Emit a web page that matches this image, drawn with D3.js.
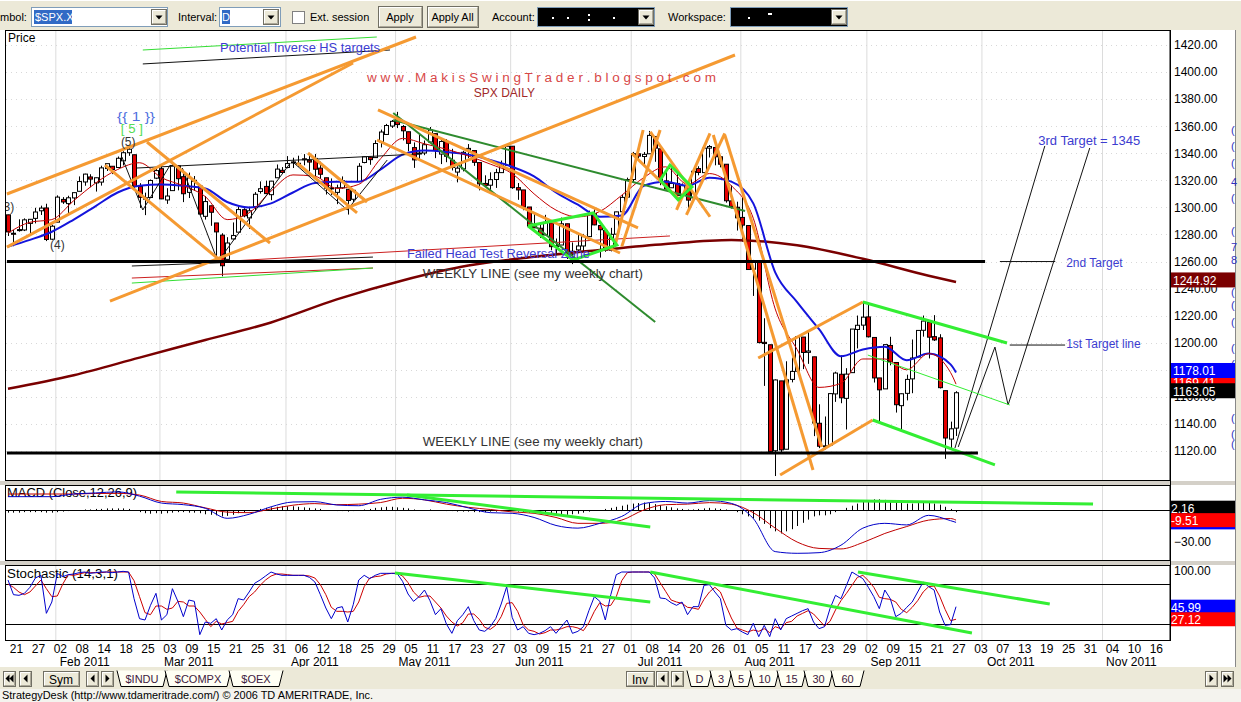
<!DOCTYPE html>
<html><head><meta charset="utf-8">
<script src="https://cdn.jsdelivr.net/npm/d3@7/dist/d3.min.js"></script>
<style>
html,body{margin:0;padding:0;background:#fff;overflow:hidden}
text{font-family:Arial,"Liberation Sans",sans-serif}
</style></head><body>
<svg id="chart" width="1241" height="702"></svg>
<script>
// ================= DATA =================
// trading days from 19 Jan 2011 (index 0) to 26 Sep 2011 (index 173)
const openP = [
1294.5,1280.9,1283.6,1283.3,1288.2,1291.9,1297.5,1299.6,1276.5,
1289.1,1305.9,1302.8,1307.0,1311.9,1318.8,1322.5,1318.1,1318.7,1328.7,1330.4,1329.5,1334.4,1340.4,1338.9,1315.4,1307.1,1307.3,1321.6,
1328.6,1305.5,1312.4,1330.7,1322.7,1311.1,1319.9,1315.7,1293.4,1301.2,1288.5,1279.5,1261.6,1276.7,1281.7,1298.3,1292.2,1300.6,1311.8,1315.5,1309.4,1321.9,1327.4,
1329.5,1333.6,1332.0,1335.9,1334.8,1336.2,1329.0,1321.9,1314.0,1311.1,1314.5,1313.4,1306.0,1319.1,1333.2,1337.1,1336.8,1348.4,1353.9,1360.1,
1365.2,1359.8,1355.9,1344.2,1340.2,1340.2,1348.3,1354.5,1339.4,1348.7,1334.8,1326.1,1328.5,1342.4,1342.0,1333.1,1317.7,1316.4,1320.6,1325.7,1331.1,
1345.2,1314.6,1312.9,1300.3,1286.3,1284.6,1279.6,1288.6,1271.3,1272.2,1287.9,1265.5,1268.6,1271.5,1278.4,1295.5,1286.6,1283.0,1268.4,1280.2,1296.8,1307.6,
1320.6,1339.6,1337.6,1339.6,1352.4,1343.3,1319.6,1314.5,1317.7,1308.9,1315.9,1307.1,1328.7,1325.7,1343.8,1344.3,1337.4,1331.9,1304.8,1300.1,
1292.6,1286.6,1254.3,1260.2,1200.3,1198.5,1120.2,1171.8,1121.3,1172.9,1178.9,1204.2,1192.9,1189.6,1140.5,1123.6,1124.4,1162.2,1176.7,1158.9,1177.9,1209.8,1213.0,
1219.1,1203.9,1174.0,1165.9,1198.0,1185.4,1153.5,1162.6,1173.3,1189.4,1209.2,1215.0,1204.5,1203.6,1164.6,1128.8,1136.9];
const highP = [
1294.6,1283.4,1291.2,1291.9,1291.3,1299.7,1301.3,1302.7,1287.2,
1308.9,1307.6,1308.6,1311.0,1322.9,1324.9,1324.5,1322.0,1330.8,1332.1,1330.4,1337.6,1341.5,1344.1,1338.9,1317.9,1310.9,1320.6,1329.4,
1332.1,1314.2,1332.3,1331.1,1327.7,1325.7,1323.2,1315.7,1308.4,1301.2,1288.5,1280.9,1278.0,1288.9,1300.6,1299.4,1300.5,1311.3,1319.2,1319.7,1319.5,1331.7,1329.8,
1337.9,1336.7,1338.2,1339.4,1338.8,1339.5,1333.8,1321.9,1321.4,1316.8,1322.9,1313.4,1312.7,1332.7,1337.5,1337.5,1349.6,1357.5,1361.7,1364.6,
1370.6,1360.8,1355.9,1348.0,1354.4,1349.4,1359.4,1354.5,1351.1,1350.5,1343.3,1330.4,1341.8,1346.8,1342.0,1333.1,1323.7,1325.9,1328.5,1334.6,1345.2,
1345.2,1318.0,1312.9,1300.3,1296.2,1287.0,1294.5,1288.6,1277.0,1292.5,1287.9,1274.1,1279.8,1280.4,1297.6,1298.6,1286.8,1283.9,1284.9,1296.8,1309.2,1322.0,
1341.0,1340.9,1340.9,1356.5,1352.4,1343.3,1327.2,1331.5,1326.9,1317.7,1315.9,1328.1,1330.4,1347.0,1346.1,1344.3,1338.5,1331.9,1316.3,1304.2,
1307.4,1286.6,1261.2,1260.2,1218.1,1198.5,1172.9,1171.8,1186.3,1189.0,1204.5,1204.2,1208.5,1189.6,1154.5,1145.5,1162.4,1178.6,1190.7,1181.2,1210.1,1220.1,1230.7,
1229.3,1203.9,1174.0,1198.6,1204.4,1185.4,1162.5,1176.4,1202.4,1209.1,1220.1,1215.0,1220.4,1206.3,1164.6,1141.7,1164.2];
const lowP = [
1278.9,1271.3,1282.1,1282.5,1281.1,1288.2,1294.4,1275.1,1276.0,
1289.1,1302.6,1294.8,1301.7,1311.9,1316.0,1314.9,1311.7,1316.1,1326.9,1324.6,1329.5,1331.0,1338.1,1312.3,1299.6,1294.3,1307.3,1320.9,
1306.1,1302.6,1312.4,1312.6,1303.9,1306.9,1312.3,1294.2,1291.0,1286.4,1261.9,1249.1,1261.6,1276.2,1281.7,1292.7,1284.1,1297.7,1310.2,1310.2,1305.3,1321.9,1325.0,
1328.9,1329.1,1330.0,1331.1,1326.6,1322.9,1321.1,1309.5,1309.2,1302.4,1313.7,1294.7,1304.0,1319.1,1332.6,1331.5,1336.8,1344.3,1353.6,1358.7,
1358.6,1349.5,1341.5,1329.2,1335.6,1338.6,1348.3,1336.4,1332.0,1333.4,1327.3,1318.5,1326.6,1336.4,1330.7,1312.6,1315.1,1311.8,1314.4,1325.7,1331.1,
1313.7,1305.6,1297.9,1284.9,1284.7,1277.4,1279.6,1268.3,1265.6,1272.2,1261.9,1258.1,1267.4,1267.6,1278.4,1286.8,1262.9,1267.2,1267.5,1280.2,1296.8,1307.6,
1318.3,1334.3,1330.9,1339.6,1333.7,1316.4,1313.3,1314.5,1306.5,1307.5,1295.9,1307.1,1323.7,1325.7,1336.9,1331.1,1329.6,1303.5,1299.2,1282.9,
1274.7,1254.0,1234.6,1199.5,1168.1,1119.3,1101.5,1118.0,1121.3,1170.7,1178.9,1180.5,1184.4,1131.0,1122.1,1121.1,1124.4,1156.3,1155.3,1135.9,1177.9,1195.8,1209.4,
1203.9,1170.6,1140.1,1165.9,1183.3,1148.4,1136.1,1157.4,1162.7,1189.4,1204.5,1188.4,1201.3,1166.2,1114.2,1121.4,1131.1];
const closeP = [
1281.9,1280.3,1283.4,1290.8,1291.2,1296.6,1299.5,1276.3,1286.1,
1307.6,1304.0,1307.1,1310.9,1319.1,1324.6,1320.9,1321.9,1329.2,1332.3,1328.0,1336.3,1340.4,1343.0,1315.4,1307.4,1306.1,1319.9,1327.2,
1306.3,1308.4,1331.0,1321.2,1310.1,1321.8,1320.0,1295.1,1304.3,1296.4,1281.9,1256.9,1273.7,1279.2,1298.4,1293.8,1297.5,1309.7,1313.8,1310.2,1319.4,1328.3,1325.8,
1332.4,1332.9,1332.6,1335.5,1333.5,1328.2,1324.5,1314.2,1314.4,1314.5,1319.7,1305.1,1312.6,1330.4,1337.4,1335.3,1347.2,1355.7,1360.5,1363.6,
1361.2,1356.6,1347.3,1335.1,1340.2,1346.3,1357.2,1342.1,1348.7,1337.8,1329.5,1329.0,1340.7,1343.6,1333.3,1317.4,1316.3,1320.5,1325.7,1331.1,1345.2,
1314.6,1312.9,1300.2,1286.2,1284.9,1279.6,1289.0,1271.0,1271.8,1287.9,1265.4,1267.6,1271.5,1278.4,1295.5,1287.1,1283.5,1268.5,1280.1,1296.7,1307.4,1320.6,
1339.7,1337.9,1339.2,1353.2,1343.8,1319.5,1313.6,1317.7,1308.9,1316.1,1305.4,1326.7,1325.8,1343.8,1345.0,1337.4,1331.9,1304.9,1300.7,1292.3,
1286.9,1254.1,1260.3,1200.1,1199.4,1119.5,1172.5,1120.8,1172.6,1178.8,1204.5,1192.8,1193.9,1140.7,1123.5,1123.8,1162.4,1177.6,1159.3,1176.8,1210.1,1212.9,1218.9,
1204.4,1174.0,1165.2,1198.6,1185.9,1154.2,1162.3,1172.9,1188.7,1209.1,1216.0,1204.1,1202.1,1166.8,1129.6,1136.4,1163.05];

// moving averages, read every 4th trading day (+ last day)
const maIdx = d3.range(0, 173, 4).concat([173]);
const maFast = [1281,1289,1291,1305,1318,1328,1333,1322,1316,1308,1291,1296,1312,1324,1323,1314,1317,1336,1351,1347,1343,1338,1332,1325,1310,1298,1293,1297,1309,1322,1330,1317,1325,1316,1292,1225,1195,1167,1170,1188,1188,1180,1192,1178,1169.41];
const maMid = [1271,1276,1282,1291,1301,1311,1316,1317,1316,1314,1304,1300,1303,1311,1318,1319,1319,1328,1339,1342,1341,1339,1335,1330,1323,1311,1302,1293,1294,1316,1319,1316,1322,1319,1303,1252,1230,1210,1190,1195,1197,1187,1192,1184,1178.01];
const maLongIdx = d3.range(0, 169, 12).concat([173]);
const maLong = [1166,1176,1189,1202,1215,1232,1246,1257,1263.5,1268.5,1273,1276,1272,1262,1249.5,1244.92];

// MACD (12,26,9) read every 4th day (+ last)
const macdLine = [12.5,12.5,12.5,15,16,17,13,6.5,5,1.6,-7.8,-4,3,7.5,7.8,4.7,4,10,12,9.5,7,2,-2.5,-3.1,-7,-14.5,-17,-12.5,-6,6,8,6.5,8.8,6.2,-8,-39,-40.6,-40,-33,-17,-12.5,-14,-5,-10,-11.6];
const macdSignal = [15,15,15,15,15.5,15.6,14,8,6.5,2,-2,-2.5,1,4.5,6,5,5.5,7,11,9.5,5.5,2.5,0.5,-1.8,-3.1,-7,-12.5,-12.5,-9.5,0,5,5.5,6.9,5.5,-2.5,-17,-30,-36,-36.5,-30.5,-22,-15.5,-9.5,-8,-9.51];
const macdHist = [
-2.5,-2.5,-2.5,-2,-2,-2,-2,-2.5,-2.5,-2,-1.5,-1,-0.5,0,0.5,0.5,1,1,1.5,1.5,
1.5,1.5,1,-0.5,-2,-3,-3.5,-3,-3.5,-3,-2.5,-2,-2,-2.5,-2.5,-3,-4,-4.5,-5,-6,
-5.5,-4.5,-3,-2,-1,0,1,2,2.5,3,3.5,3.5,3.5,3,2.5,2,1.5,1,0,-0.5,
-1,-1,-1.5,-1,0,0.5,1,2,2.5,3,3,2.5,2,1.5,0.5,0,0,0.5,0,-0.5,
-1,-1,-1.5,-1.5,-1.5,-2,-2,-2,-1.5,-1.5,-1,-0.5,-1,-1.5,-2,-2.5,-3,-3.5,-4,-4.5,
-5,-5,-4.5,-4,-3.5,-2.5,-1.5,-0.5,0,1,2,3,4,5,6,6.5,7,6.5,5.5,4.5,
3.5,2.5,1.5,1,0.5,0.5,1,1.5,2,1.5,1,0.5,-0.5,-2,-4,-6,-8,-10,-13,-17,
-20,-22,-20,-18,-15,-12,-9,-6,-5,-5,-4,-2,0,2,4,6,8,9,10,10,
9.5,9,8,7,6,6,6.5,7,7,6,5,3,1,-2];

// Stochastic (14,3,1) daily
const stochK = [
86,64,63,66,75,89,93,36,53,96, 91,94,95,97,98,96,97,98,98,97,
98,99,98,58,28,26,48,66,26,34, 73,54,31,56,54,4,23,21,28,11,
26,34,58,56,68,81,86,92,98,95, 93,93,93,93,93,90,83,64,44,28,
44,46,23,49,86,93,88,93,96,96, 96,96,84,65,54,61,71,55,34,43,
20,6,25,34,46,25,11,9,16,28, 50,76,30,11,16,6,4,6,10,16,
6,16,26,6,9,16,40,61,54,26, 64,94,98,98,98,98,98,98,89,59,
58,52,48,53,34,46,46,78,79,68, 58,18,11,13,8,4,21,1,18,1,
28,11,28,32,36,40,43,23,13,16, 43,63,58,78,98,93,88,75,61,43,
71,58,31,36,45,53,68,83,76,71, 38,18,19,45.99];
const stochD = [
80,75,68,64,68,77,86,73,61,62, 80,94,93,95,97,97,97,97,98,98,
98,98,98,85,61,37,34,47,47,42, 44,54,53,47,47,38,27,16,24,20,
22,24,39,49,61,68,78,86,92,95, 95,94,93,93,93,92,89,79,64,45,
39,39,38,39,53,76,89,91,92,95, 96,96,92,82,68,60,62,62,53,44,
32,23,17,22,35,35,27,15,12,18, 31,51,52,39,19,11,9,5,7,11,
11,13,16,16,14,10,22,39,52,47, 48,61,85,97,98,98,98,98,95,82,
69,56,53,51,45,44,42,57,68,75, 68,48,29,14,11,8,11,9,13,7,
16,13,22,24,32,36,40,35,26,17, 24,41,55,66,78,90,93,85,75,60,
58,57,53,42,37,45,55,68,76,77, 62,42,25,27.12];

// axis labels
const dayTickStart = 2, dayTickStep = 4;
const dayTickLabels = ["21","27","02","08","14","18","25","03","09","15","21","25","31","06","12","18","25","29","05","11","17","23","27","03","09","15","21","27","01","08","14","20","26","01","05","11","17","23","29","02","09","15","21","27","03","07","13","19","25","31","04","10","16"];
const monthLabels = ["Feb 2011","Mar 2011","Apr 2011","May 2011","Jun 2011","Jul 2011","Aug 2011","Sep 2011","Oct 2011","Nov 2011"];
const monthStart = [9,28,51,71,92,114,134,157,178,200];
const priceTicks = d3.range(1120, 1421, 20);

// drawn annotations (trading-day index, price)
const orangeLines = [
 [[-0.2,1309.9],[74.45,1425.9]],
 [[-0.2,1270.7],[62.96,1406.7]],
 [[25.36,1348.3],[47.81,1273.7]],
 [[17.70,1331.3],[39.05,1259.7]],
 [[18.61,1230.8],[132.66,1412.6]],
 [[54.74,1340.2],[65.51,1304.0]],
 [[52.74,1332.8],[63.69,1295.9]],
 [[67.52,1372.0],[114.96,1284.8]],
 [[67.34,1349.8],[111.68,1266.3]],
 [[110.8,1272.2],[115.9,1357.2]],
 [[112.0,1271.0],[119.0,1357.2]],
 [[113.8,1340.0],[122.3,1306.7]],
 [[117.2,1355.9],[128.1,1293.1]],
 [[122.0,1298.1],[128.1,1354.7]],
 [[123.8,1294.4],[130.8,1354.7]],
 [[128.7,1353.5],[146.9,1106.0]],
 [[130.8,1353.5],[148.5,1123.0]],
 [[136.9,1188.7],[156.0,1230.1]],
 [[140.9,1102.3],[157.8,1142.9]]
];
const limeLines = [
 [[156.0,1230.1],[182.3,1199.8]],
 [[157.8,1142.9],[180.1,1109.7]]
];
const limeThin = [[[156.9,1190.9],[182.8,1154.0]]];
const limePolys = [
 [[94.9,1286.3],[106.8,1295.9],[111.1,1272.2],[103.1,1261.1]],
 [[119.0,1320.2],[120.8,1331.3],[124.8,1315.1],[122.3,1305.5]]
];
const darkGreenLines = [
 [[70.3,1364.6],[134.5,1297.3]],
 [[70.3,1369.8],[118.1,1215.3]]
];
const weeklyLines = [
 [[-0.2,1260],[178.3,1260]],
 [[-0.2,1118.5],[177.0,1118.5]]
];
const blackThin = [
 [[23.5,1329.1],[75.2,1339.5]],
 [[22.6,1256.7],[66.6,1263.3]],
 [[24.6,1406.0],[69.7,1416.3]],
 [[20.8,1337.2],[24.6,1298.1],[29.6,1331.3]],
 [[31.8,1329.1],[38.3,1260],[51.5,1332.8]],
 [[52.0,1333.5],[61.9,1298.1],[69.2,1335.0]],
 [[172.8,1122.2],[189.2,1345.4]],
 [[173.4,1123.0],[180.1,1196.8],[182.5,1154.0],[197.4,1343.9]],
 [[181.0,1260],[191.1,1260]],
 [[182.8,1198.3],[192.9,1198.3]]
];
const redThin = [
 [[39.05,1260],[120.8,1278.9]],
 [[22.6,1247.8],[66.6,1255.2]]
];
const greenThin = [
 [[22.6,1244.1],[66.6,1255.2]],
 [[24.6,1416.3],[67.3,1425.9]]
];
const macdLime = [
 [[30.7,16.9],[198.0,5.6]],
 [[72.8,14.1],[117.2,-15.9]]
];
const stochLime = [
 [[70.6,96.5],[117.2,53]],
 [[117.2,98],[175.9,6.5]],
 [[155.1,98],[190.1,50]]
];
// text notes: [index, price, text, colour, width]
const notes = [
 [38.7,1414.8,"Potential Inverse HS targets","#3c3cd0",160],
 [65.5,1392.7,"w w w . M a k i s S w i n g T r a d e r . b l o g s p o t . c o m","#d84848",349],
 [85.0,1381.6,"SPX DAILY","#a02828",0],
 [19.9,1363.8,"{{  1  }}","#5070e0",38],
 [20.6,1355.0,"[ 5 ]","#55dd55",22],
 [20.6,1345.4,"(5)","#333333",0],
 [7.66,1269.3,"(4)","#333333",0],
 [-0.8,1297.3,"3)","#333333",0],
 [72.8,1262.6,"Failed Head Test Reversal Zone","#3c3cd0",183],
 [75.7,1247.8,"WEEKLY LINE (see my weekly chart)","#333333",220],
 [75.7,1123.7,"WEEKLY LINE (see my weekly chart)","#333333",220],
 [188.0,1346.1,"3rd Target = 1345","#3c3cd0",102],
 [193.1,1256.0,"2nd Target","#3c3cd0",0],
 [193.1,1196.1,"1st Target line","#3c3cd0",0]
];
const priceTags = [[1244.92,"#7b0000"],[1169.41,"#ff0000"],[1178.01,"#0000ff"],[1163.05,"#000000"]];
const macdTags = [[2.16,"#000000"],[-11.6,"#0000ff"],[-9.51,"#ff0000"]];
const stochTags = [[45.99,"#0000ff"],[27.12,"#ff0000"]];

// ================= DRAWING =================
const BG = "#ece9d8";
const svg = d3.select("#chart");
const defs = svg.append("defs");
svg.append("rect").attr("width",1241).attr("height",702).attr("fill","#fff");

const x = d3.scaleLinear().domain([0,210]).range([8, 8 + 5.48*210]);
const yP = d3.scaleLinear().domain([1120,1420]).range([451,45]);
const yM = d3.scaleLinear().domain([-30,0]).range([542,510]);
const yS = d3.scaleLinear().domain([20,80]).range([624,584]);

function clip(id,x0,y0,w,h){defs.append("clipPath").attr("id",id).append("rect").attr("x",x0).attr("y",y0).attr("width",w).attr("height",h);}
clip("cpP",6,31,1164,450); clip("cpM",6,486,1164,74); clip("cpS",6,566,1164,74);

function T(g,x0,y0,s,o){o=o||{};const t=g.append("text").attr("x",x0).attr("y",y0).text(s)
 .attr("font-size",o.size||11).attr("fill",o.fill||"#000");
 if(o.anchor)t.attr("text-anchor",o.anchor); if(o.len)t.attr("textLength",o.len).attr("lengthAdjust","spacingAndGlyphs");
 if(o.weight)t.attr("font-weight",o.weight); return t;}

// ---------- toolbar ----------
const tb = svg.append("g");
tb.append("rect").attr("width",1241).attr("height",30).attr("fill",BG);
tb.append("line").attr("x1",0).attr("x2",1241).attr("y1",0.5).attr("y2",0.5).attr("stroke","#fff");
function btn(g,x0,y0,w,h){
 g.append("rect").attr("x",x0+0.5).attr("y",y0+0.5).attr("width",w).attr("height",h).attr("fill",BG).attr("stroke","#716f64");
 g.append("path").attr("d",`M${x0+1.5},${y0+h-1}V${y0+1.5}H${x0+w-1}`).attr("stroke","#fff").attr("fill","none");
 g.append("path").attr("d",`M${x0+1.5},${y0+h-0.5}H${x0+w-0.5}V${y0+1.5}`).attr("stroke","#aca899").attr("fill","none");
}
function dropBtn(g,x0,y0){btn(g,x0,y0,15,15);g.append("path").attr("d",`M${x0+4.5},${y0+6.5}h7l-3.5,4z`).attr("fill","#000");}
function combo(g,x0,w,fill){g.append("rect").attr("x",x0+0.5).attr("y",7.5).attr("width",w).attr("height",19).attr("fill",fill).attr("stroke","#7f9db9");}
T(tb,0,21,"mbol:");
combo(tb,31,136,"#fff");
tb.append("rect").attr("x",34).attr("y",10).attr("width",38).attr("height",14).attr("fill","#316ac5");
T(tb,35,21,"$SPX.X",{fill:"#fff"});
dropBtn(tb,151,9);
T(tb,178,21,"Interval:");
combo(tb,219,61,"#fff");
tb.append("rect").attr("x",222).attr("y",10).attr("width",8).attr("height",14).attr("fill","#316ac5");
T(tb,222,21,"D",{fill:"#fff"});
dropBtn(tb,263,9);
tb.append("rect").attr("x",292.5).attr("y",11.5).attr("width",12).attr("height",12).attr("fill","#fff").attr("stroke","#808080");
T(tb,310,21,"Ext. session");
btn(tb,378,6,44,21); T(tb,400,21,"Apply",{anchor:"middle"});
btn(tb,427,6,51,21); T(tb,452.5,21,"Apply All",{anchor:"middle"});
T(tb,492,21,"Account:");
combo(tb,537,117,"#000");
[[552,17],[567,17],[588,14],[588,19],[613,17]].forEach(d=>tb.append("rect").attr("x",d[0]).attr("y",d[1]).attr("width",2).attr("height",2).attr("fill","#fff"));
dropBtn(tb,638,9);
T(tb,668,21,"Workspace:");
combo(tb,730,117,"#000");
[[748,17],[768,13],[770,13]].forEach(d=>tb.append("rect").attr("x",d[0]).attr("y",d[1]).attr("width",2).attr("height",2).attr("fill","#fff"));
dropBtn(tb,831,9);

// ---------- chart frame ----------
const fr = svg.append("g");
fr.append("rect").attr("x",0).attr("y",481).attr("width",1236).attr("height",4).attr("fill","#d4d0c8");
fr.append("rect").attr("x",0).attr("y",561).attr("width",1236).attr("height",4).attr("fill","#d4d0c8");
fr.append("rect").attr("x",1235).attr("y",30).attr("width",6).attr("height",640).attr("fill",BG);
fr.append("line").attr("x1",1235.5).attr("x2",1235.5).attr("y1",30).attr("y2",668).attr("stroke","#888");
[[130,"("],[146,"("],[163,"("],[182,"4"],[198,"("],[231,"("],[247,"7"],[260,"8"],[292,"("],[305,"("],[322,"("],[348,"("],[364,"("],[392,"("],[418,"("],[434,"("],[444,"("]]
 .forEach(d=>T(fr,1231,d[0]+4,d[1],{fill:"#3030c0",size:11}));

// gridlines
function grid(g,y0,y1){
 monthStart.forEach(m=>g.append("line").attr("x1",x(m)-1.5).attr("x2",x(m)-1.5).attr("y1",y0).attr("y2",y1).attr("stroke","#dcdcdc"));
}
const gP = svg.append("g").attr("clip-path","url(#cpP)");
grid(gP,31,481);
priceTicks.forEach(v=>gP.append("line").attr("x1",6).attr("x2",1170).attr("y1",Math.round(yP(v))+0.5).attr("y2",Math.round(yP(v))+0.5).attr("stroke","#d8d8d8").attr("stroke-dasharray","1,4"));

// candles
const cdl = gP.append("g").selectAll("g").data(closeP).join("g");
cdl.append("line").attr("x1",(d,i)=>Math.round(x(i))+0.5).attr("x2",(d,i)=>Math.round(x(i))+0.5)
 .attr("y1",(d,i)=>yP(highP[i])).attr("y2",(d,i)=>yP(lowP[i])).attr("stroke","#000");
cdl.append("rect").attr("x",(d,i)=>Math.round(x(i))-1.5).attr("width",4)
 .attr("y",(d,i)=>yP(Math.max(openP[i],d))).attr("height",(d,i)=>Math.max(1,yP(Math.min(openP[i],d))-yP(Math.max(openP[i],d))))
 .attr("fill",(d,i)=>d>=openP[i]?"#fff":"#e40000").attr("stroke","#000").attr("stroke-width",1);

// moving averages
const lnP = d3.line().x(d=>x(d[0])).y(d=>yP(d[1]));
const lnPc = d3.line().x(d=>x(d[0])).y(d=>yP(d[1])).curve(d3.curveMonotoneX);
gP.append("path").attr("d",lnPc(maLongIdx.map((d,k)=>[d,maLong[k]]))).attr("fill","none").attr("stroke","#7a0000").attr("stroke-width",2.5);
gP.append("path").attr("d",lnPc(maIdx.map((d,k)=>[d,maMid[k]]))).attr("fill","none").attr("stroke","#1414dc").attr("stroke-width",2);
gP.append("path").attr("d",lnPc(maIdx.map((d,k)=>[d,maFast[k]]))).attr("fill","none").attr("stroke","#c40000").attr("stroke-width",1);

// annotations
function drawLines(arr,col,w){arr.forEach(p=>gP.append("path").attr("d",lnP(p)).attr("fill","none").attr("stroke",col).attr("stroke-width",w));}
drawLines(redThin,"#cc2020",1);
drawLines(greenThin,"#33dd33",1);
drawLines(blackThin,"#111",1);
drawLines(darkGreenLines,"#2e8b2e",2);
drawLines(orangeLines,"#f59a32",3);
drawLines(limeThin,"#33ee33",1);
drawLines(limeLines,"#33ee33",3);
limePolys.forEach(p=>gP.append("path").attr("d",lnP(p.concat([p[0]]))).attr("fill","none").attr("stroke","#33ee33").attr("stroke-width",3));
drawLines(weeklyLines,"#000",3);
notes.forEach(n=>T(gP,x(n[0]),yP(n[1]),n[2],{fill:n[3],size:12,len:n[4]||null}));
T(svg,8,42,"Price",{size:12});

// right price axis
const axP = svg.append("g").attr("transform","translate(1170,0)")
 .call(d3.axisRight(yP).tickValues(priceTicks).tickFormat(d3.format(".2f")).tickSize(0).tickPadding(4));
axP.select(".domain").remove();
axP.selectAll("text").attr("font-size",12).attr("font-family","Arial, 'Liberation Sans', sans-serif").attr("fill","#000");
priceTags.forEach(t=>{
 const cy = yP(t[0]);
 svg.append("rect").attr("x",1170).attr("y",cy-9.5).attr("width",65).attr("height",15).attr("fill",t[1]);
 T(svg,1173,cy+3,t[0].toFixed(2),{fill:"#fff",size:12});
});

// ---------- MACD panel ----------
const gM = svg.append("g").attr("clip-path","url(#cpM)");
grid(gM,486,561);
T(gM,7,497,"MACD (Close,12,26,9)",{size:12,len:130});
gM.append("line").attr("x1",6).attr("x2",1170).attr("y1",yM(0)+0.5).attr("y2",yM(0)+0.5).attr("stroke","#000");
gM.append("g").selectAll("line").data(macdHist).join("line")
 .attr("x1",(d,i)=>Math.round(x(i))+0.5).attr("x2",(d,i)=>Math.round(x(i))+0.5)
 .attr("y1",yM(0)).attr("y2",d=>yM(d)).attr("stroke","#000");
const lnM = d3.line().x(d=>x(d[0])).y(d=>yM(d[1])).curve(d3.curveMonotoneX);
gM.append("path").attr("d",lnM(maIdx.map((d,k)=>[d,macdSignal[k]]))).attr("fill","none").attr("stroke","#c00000");
gM.append("path").attr("d",lnM(maIdx.map((d,k)=>[d,macdLine[k]]))).attr("fill","none").attr("stroke","#0000c8");
const lnMs = d3.line().x(d=>x(d[0])).y(d=>yM(d[1]));
macdLime.forEach(p=>gM.append("path").attr("d",lnMs(p)).attr("fill","none").attr("stroke","#33ee33").attr("stroke-width",3));
const axM = svg.append("g").attr("transform","translate(1170,0)")
 .call(d3.axisRight(yM).tickValues([-30]).tickFormat(d3.format(".2f")).tickSize(0).tickPadding(4));
axM.select(".domain").remove();
axM.selectAll("text").attr("font-size",12).attr("font-family","Arial, 'Liberation Sans', sans-serif").attr("fill","#000");
macdTags.forEach(t=>{
 const cy = yM(t[0]);
 svg.append("rect").attr("x",1170).attr("y",cy-7).attr("width",65).attr("height",14).attr("fill",t[1]);
 T(svg,1171,cy+5,t[0].toFixed(2),{fill:"#fff",size:12});
});

// ---------- Stochastic panel ----------
const gS = svg.append("g").attr("clip-path","url(#cpS)");
grid(gS,566,641);
T(gS,7,578,"Stochastic (14,3,1)",{size:12,len:111});
[80,20].forEach(v=>gS.append("line").attr("x1",6).attr("x2",1170).attr("y1",yS(v)+0.5).attr("y2",yS(v)+0.5).attr("stroke","#000"));
const lnS = d3.line().x((d,i)=>x(i)).y(d=>yS(d));
gS.append("path").attr("d",lnS(stochD)).attr("fill","none").attr("stroke","#cc0000");
gS.append("path").attr("d",lnS(stochK)).attr("fill","none").attr("stroke","#0000cc");
const lnSs = d3.line().x(d=>x(d[0])).y(d=>yS(d[1]));
stochLime.forEach(p=>gS.append("path").attr("d",lnSs(p)).attr("fill","none").attr("stroke","#33ee33").attr("stroke-width",3));
const axS = svg.append("g").attr("transform","translate(1170,0)")
 .call(d3.axisRight(yS).tickValues([100]).tickFormat(d3.format(".2f")).tickSize(0).tickPadding(4));
axS.select(".domain").remove();
axS.selectAll("text").attr("font-size",12).attr("font-family","Arial, 'Liberation Sans', sans-serif").attr("fill","#000");
stochTags.forEach(t=>{
 const cy = yS(t[0]);
 svg.append("rect").attr("x",1170).attr("y",cy-7).attr("width",65).attr("height",14).attr("fill",t[1]);
 T(svg,1171,cy+5,t[0].toFixed(2),{fill:"#fff",size:12});
});

// panel borders
[[30,481],[485,561],[565,641]].forEach(b=>{
 svg.append("rect").attr("x",5.5).attr("y",b[0]+0.5).attr("width",1164.5).attr("height",b[1]-b[0]-1).attr("fill","none").attr("stroke","#000");
});
svg.append("line").attr("x1",1170.5).attr("x2",1170.5).attr("y1",30).attr("y2",641).attr("stroke","#000");

// ---------- date axis ----------
const dayIdx = dayTickLabels.map((d,k)=>dayTickStart + k*dayTickStep);
const axD = svg.append("g").attr("transform","translate(-3,641)")
 .call(d3.axisBottom(x).tickValues(dayIdx).tickFormat((d,k)=>dayTickLabels[k]).tickSize(0).tickPadding(3));
axD.select(".domain").remove();
axD.selectAll("text").attr("font-size",12).attr("font-family","Arial, 'Liberation Sans', sans-serif").attr("fill","#000");
const axMo = svg.append("g").attr("transform","translate(0,654)")
 .call(d3.axisBottom(x).tickValues(monthStart.map(m=>m+4.9)).tickFormat((d,k)=>monthLabels[k]).tickSize(0).tickPadding(3));
axMo.select(".domain").remove();
axMo.selectAll("text").attr("font-size",12).attr("font-family","Arial, 'Liberation Sans', sans-serif").attr("fill","#000");

// ---------- bottom tab bar ----------
const bb = svg.append("g");
bb.append("rect").attr("x",0).attr("y",667).attr("width",1241).attr("height",22).attr("fill",BG);
bb.append("rect").attr("x",0).attr("y",689).attr("width",1241).attr("height",13).attr("fill","#f4f3ee");
function triBtn(x0,dir,dbl){btn(bb,x0,671,12,15);
 const c=x0+6.5, y0=678.5;
 const tri=(cx)=>dir<0?`M${cx+2},${y0-4}v8l-4,-4z`:`M${cx-2},${y0-4}v8l4,-4z`;
 if(dbl){bb.append("path").attr("d",tri(c-2)+tri(c+2)).attr("fill","#000");}
 else bb.append("path").attr("d",tri(c)).attr("fill","#000");}
triBtn(3,-1,true); triBtn(19,-1,false);
btn(bb,43,671,36,15); T(bb,61,684,"Sym",{anchor:"middle",size:12});
triBtn(86,-1,false); triBtn(101,1,false);
function tabs(x0,list){let cx=x0;list.forEach(t=>{
 bb.append("path").attr("d",`M${cx},670.5L${cx+4},686.5H${cx+t[1]-4}L${cx+t[1]},670.5`).attr("fill","#fffff4").attr("stroke","#000");
 T(bb,cx+t[1]/2,683,t[0],{anchor:"middle",size:11,fill:"#402040"}); cx+=t[1]-2;});}
tabs(117,[["$INDU",50],["$COMPX",66],["$OEX",54]]);
btn(bb,626,671,28,15); T(bb,640,684,"Inv",{anchor:"middle",size:12});
triBtn(656,-1,false); triBtn(671,1,false);
tabs(687,[["D",25],["3",22],["5",22],["10",29],["15",29],["30",29],["60",33]]);
triBtn(1205,1,false); triBtn(1221,1,true);
T(svg,2,699,"StrategyDesk (http://www.tdameritrade.com/) © 2006 TD AMERITRADE, Inc.",{size:11,len:371});
</script></body></html>
